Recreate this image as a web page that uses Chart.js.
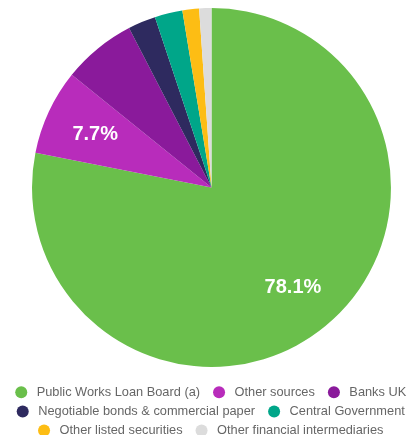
<!DOCTYPE html>
<html>
<head>
<meta charset="utf-8">
<script src="https://cdn.jsdelivr.net/npm/chart.js@4/dist/chart.umd.min.js"></script>
<style>
  html, body { margin: 0; padding: 0; background: #fff; }
  #wrap { width: 409px; height: 435px; }
</style>
</head>
<body>
<div id="wrap"><canvas id="pieChart"></canvas></div>
<script>
// sources of borrowing, share of total (%)
const categories = [
  "Public Works Loan Board (a)",
  "Other sources",
  "Banks UK",
  "Negotiable bonds & commercial paper",
  "Central Government",
  "Other listed securities",
  "Other financial intermediaries"
];
const shares = [78.1, 7.7, 6.6, 2.5, 2.5, 1.5, 1.1];
const sliceColors = ["#6abf4b", "#b82cbb", "#8a1a9b", "#2e2a5f", "#00a689", "#fdbd14", "#dcdcdc"];
// legend rows end after these items (no extra gap needed there)
const rowEnds = [2, 4, 6];

// only the big slices get a label on the pie
const labelPlugin = {
  id: "sliceLabels",
  afterLayout(chart) {
    // pie sits a little right of the canvas middle
    const area = chart.chartArea;
    const dx = 211.5 - (area.left + area.right) / 2;
    area.left += dx;
    area.right += dx;
  },
  afterDatasetsDraw(chart) {
    const ctx = chart.ctx;
    const meta = chart.getDatasetMeta(0);
    ctx.save();
    ctx.fillStyle = "#fff";
    ctx.font = "bold 20px 'Liberation Sans', Arial, sans-serif";
    ctx.textAlign = "center";
    ctx.textBaseline = "middle";
    meta.data.forEach((arc, i) => {
      const v = shares[i];
      if (v < 7) return;
      const p = arc.getProps(["x", "y", "startAngle", "endAngle", "outerRadius"], true);
      const mid = (p.startAngle + p.endAngle) / 2;
      const r = p.outerRadius * 0.715;
      ctx.fillText(v.toFixed(1) + "%", p.x + Math.cos(mid) * r, p.y + Math.sin(mid) * r + 1);
    });
    ctx.restore();
  }
};

const ctx = document.getElementById("pieChart").getContext("2d");
window.pieChart = new Chart(ctx, {
  type: "pie",
  data: {
    labels: categories,
    datasets: [{
      data: shares,
      backgroundColor: sliceColors,
      borderWidth: 0
    }]
  },
  options: {
    responsive: true,
    maintainAspectRatio: false,
    animation: false,
    layout: {
      padding: { top: 8, left: 0, right: -13, bottom: -12 }
    },
    plugins: {
      tooltip: { enabled: false },
      legend: {
        position: "bottom",
        title: {
          display: true,
          text: "",
          padding: 0,
          font: { size: 10, lineHeight: 1.25 }
        },
        labels: {
          usePointStyle: true,
          pointStyle: "circle",
          boxWidth: 11,
          boxHeight: 8.5,
          padding: 6.4,
          color: "#333",
          font: { family: "'Liberation Sans', Arial, sans-serif", size: 12.8 },
          generateLabels(chart) {
            return categories.map((name, i) => ({
              text: " " + name + (rowEnds.includes(i) ? "" : "  "),
              fillStyle: sliceColors[i],
              strokeStyle: sliceColors[i],
              lineWidth: 0,
              pointStyle: "circle",
              hidden: false,
              index: i
            }));
          }
        }
      }
    }
  },
  plugins: [labelPlugin]
});
</script>
</body>
</html>
